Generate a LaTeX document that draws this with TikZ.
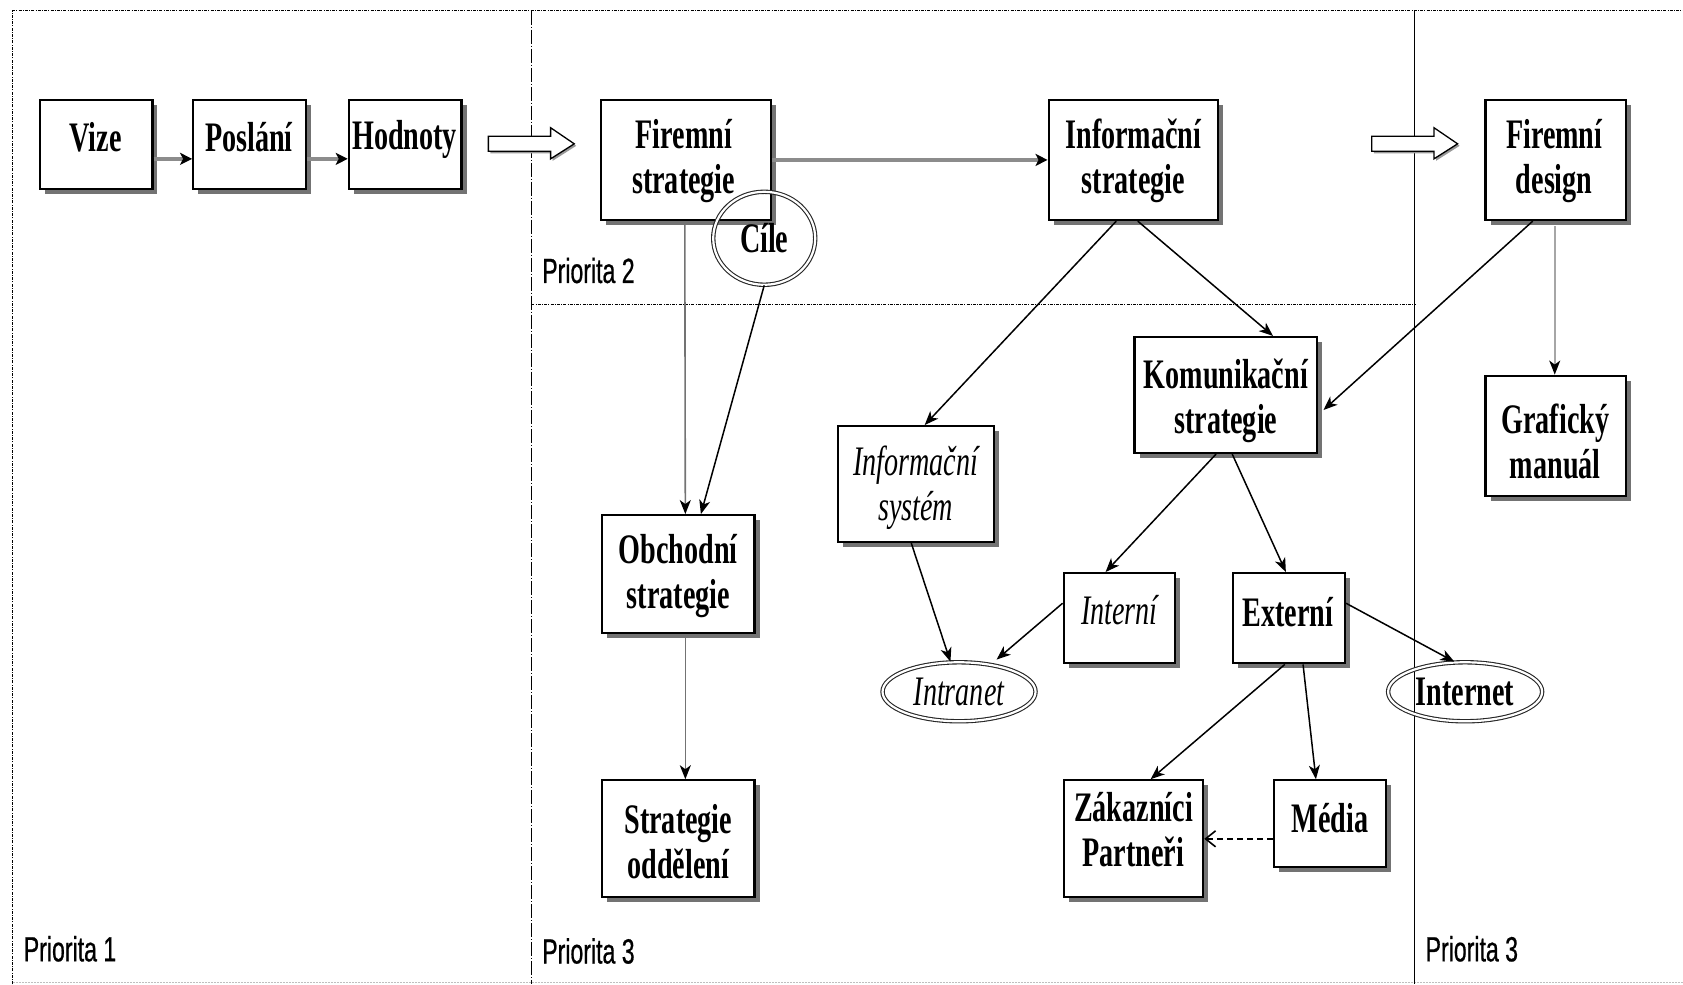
\documentclass[tikz,border=0pt]{standalone}
\usepackage{fontspec}
\setmainfont{Liberation Serif}[FakeStretch=0.67]
\newfontfamily\priofont{Liberation Sans}[FakeStretch=0.66,FakeBold=0.6]
\usetikzlibrary{arrows.meta,shapes.geometric,shadows,calc}
\begin{document}
\begin{tikzpicture}[x=1.0733pt,y=-1.0733pt,
  box/.style={draw=black, line width=2.2pt, fill=white, rectangle, inner sep=0pt,
    drop shadow={shadow xshift=5pt, shadow yshift=-5pt, fill=black!55, opacity=1}},
  lbl/.style={font=\fontsize{42pt}{45pt}\selectfont\bfseries, align=center, inner sep=0pt},
  ilbl/.style={font=\fontsize{42pt}{45pt}\selectfont\itshape, align=center, inner sep=0pt},
  prio/.style={font=\priofont\fontsize{35pt}{38pt}\selectfont, anchor=west, inner sep=0pt},
  ell/.style={ellipse, draw=black!85, line width=1.1pt, double=white, double distance=2.2pt, inner sep=0pt},
  con/.style={draw=black, line width=1.5pt, -{Stealth[length=14pt,width=11pt,inset=4pt]}},
  gcon/.style={draw=black!45, line width=4pt, -{Stealth[length=12pt,width=12pt,inset=3pt,color=black]}},
  tcon/.style={draw=black!55, line width=1.6pt, -{Stealth[length=14pt,width=11pt,inset=4pt,color=black]}},
  dcon/.style={draw=black, line width=1.6pt, dash pattern=on 6pt off 4pt, -{Straight Barb[length=10pt,width=16pt]}},
  frame/.style={draw=black, line width=1.2pt, dash pattern=on 3pt off 1.2pt on 1pt off 1.2pt},
  divdash/.style={draw=black, line width=1.3pt, dash pattern=on 14pt off 2pt on 1pt off 2pt},
  hollow/.style={draw=black, line width=1.3pt, fill=white,
    drop shadow={shadow xshift=2pt, shadow yshift=-2pt, fill=black!40, opacity=1}}
]
\useasboundingbox (0,0) rectangle (1568,917);
% frame and dividers
\draw[frame] (12,917) -- (12,10) -- (1568,10);
\draw[black!25, line width=1pt, dash pattern=on 2pt off 1pt] (12,915.5) -- (1568,915.5);
\draw[divdash] (495,10) -- (495,917);
\draw[black, line width=1.4pt] (1318,10) -- (1318,917);
\draw[frame] (495,284) -- (1318,284);

% priority labels
\node[prio] (p2) at (505,252) {Priorita 2};
\node[prio] (p1) at (22,884) {Priorita 1};
\node[prio] (p3a) at (505,886) {Priorita 3};
\node[prio] (p3b) at (1328,884) {Priorita 3};

% hollow arrows
\draw[hollow] (455,127) -- (513,127) -- (513,119) -- (535,134) -- (513,148) -- (513,141) -- (455,141) -- cycle;
\draw[hollow] (1278,127) -- (1336,127) -- (1336,119) -- (1358,134) -- (1336,148) -- (1336,141) -- (1278,141) -- cycle;

% boxes
\node[box, minimum width=112.7pt, minimum height=89.1pt] (vize) at (89.5,134.5) {};
\node[box, minimum width=112.7pt, minimum height=89.1pt] (poslani) at (232.5,134.5) {};
\node[box, minimum width=112.7pt, minimum height=89.1pt] (hodnoty) at (377.5,134.5) {};
\node[box, minimum width=169.6pt, minimum height=120.2pt] (fs) at (639,149) {};
\node[box, minimum width=169.6pt, minimum height=120.2pt] (is) at (1056,149) {};
\node[box, minimum width=140.6pt, minimum height=120.2pt] (fd) at (1449.5,149) {};
\node[box, minimum width=182.5pt, minimum height=115.9pt] (kom) at (1142,368) {};
\node[box, minimum width=140.6pt, minimum height=120.2pt] (gm) at (1449.5,406) {};
\node[box, minimum width=155.6pt, minimum height=115.9pt] (isys) at (853.5,451) {};
\node[box, minimum width=152.4pt, minimum height=118.1pt] (ob) at (632,535) {};
\node[box, minimum width=111.6pt, minimum height=90.2pt] (int) at (1043,576) {};
\node[box, minimum width=111.6pt, minimum height=90.2pt] (ext) at (1201,576) {};
\node[box, minimum width=152.4pt, minimum height=117pt] (so) at (632,781.5) {};
\node[box, minimum width=139.5pt, minimum height=117pt] (zak) at (1056,781.5) {};
\node[box, minimum width=111.6pt, minimum height=86.9pt] (media) at (1239,767.5) {};

% box texts
\node[lbl] (vize-t) at (89,128) {Vize};
\node[lbl] (poslani-t) at (232,128) {Poslání};
\node[lbl] (hodnoty-t) at (377,130) {Hodnoty};
\node[lbl] (fs-t) at (637,150) {Firemní\\strategie};
\node[lbl] (is-t) at (1056,150) {Informační\\strategie};
\node[lbl] (fd-t) at (1448,150) {Firemní\\design};
\node[lbl] (kom-t) at (1142,373) {Komunikační\\strategie};
\node[lbl] (gm-t) at (1449,411) {Grafický\\manuál};
\node[ilbl] (isys-t) at (853,454) {Informační\\systém};
\node[lbl] (ob-t) at (632,537) {Obchodní\\strategie};
\node[lbl] (so-t) at (632,784) {Strategie\\oddělení};
\node[ilbl] (int-t) at (1043,568) {Interní};
\node[lbl] (ext-t) at (1200,570) {Externí};
\node[lbl] (zak-t) at (1056,773) {Zákazníci\\Partneři};
\node[lbl] (media-t) at (1239,762) {Média};

% ellipses
\node[ell, minimum width=102pt, minimum height=93pt, font=\fontsize{42pt}{45pt}\selectfont\bfseries] (cile) at (712,222) {Cíle};
\node[ell, minimum width=153pt, minimum height=59pt, font=\fontsize{42pt}{45pt}\selectfont\itshape] (intranet) at (893.5,644.5) {Intranet};
\node[ell, minimum width=154pt, minimum height=59pt, font=\fontsize{42pt}{45pt}\selectfont\bfseries] (internet) at (1365,644.5) {Internet};

% connectors
\draw[gcon] ($(vize.east)+(0,13.5)$) -- ($(poslani.west)+(0,13.5)$);
\draw[gcon] ($(poslani.east)+(0,13.5)$) -- ($(hodnoty.west)+(0,13.5)$);
\draw[gcon] (fs.east) -- (is.west);
\draw[tcon] ($(fs.south)+(-1,0)$) -- ($(ob.north)+(6.5,0)$);
\draw[con] (cile.south) -- ($(ob.north)+(21,0)$);
\draw[tcon] ($(ob.south)+(6.5,0)$) -- ($(so.north)+(6.5,0)$);
\draw[con] ($(is.south)+(-16,0)$) -- ($(isys.north)+(8,0)$);
\draw[con] ($(is.south)+(4,0)$) -- ($(kom.north)+(44,0)$);
\draw[con] ($(fd.south)+(-21.5,0)$) -- ($(kom.east)+(5,14)$);
\draw[tcon, draw=black!35] ($(fd.south)+(-1,5)$) -- ($(gm.north)+(-1,0)$);
\draw[con] ($(kom.south)+(-9,0)$) -- ($(int.north)+(-13,0)$);
\draw[con] ($(kom.south)+(6,0)$) -- ($(ext.north)+(-3,0)$);
\draw[con] ($(isys.south)+(-4.5,0)$) -- ($(intranet.north)+(-8,0)$);
\draw[con] ($(int.west)+(0,-14)$) -- ($(intranet.north)+(35,-2)$);
\draw[con] ($(ext.east)+(0,-14)$) -- ($(internet.north)+(-10,0)$);
\draw[con] ($(ext.south)+(-4,0)$) -- ($(zak.north)+(16,0)$);
\draw[con] ($(ext.south)+(13,0)$) -- ($(media.north)+(-13,0)$);
\draw[dcon] (media.west |- zak.east) -- (zak.east);
\end{tikzpicture}
\end{document}
